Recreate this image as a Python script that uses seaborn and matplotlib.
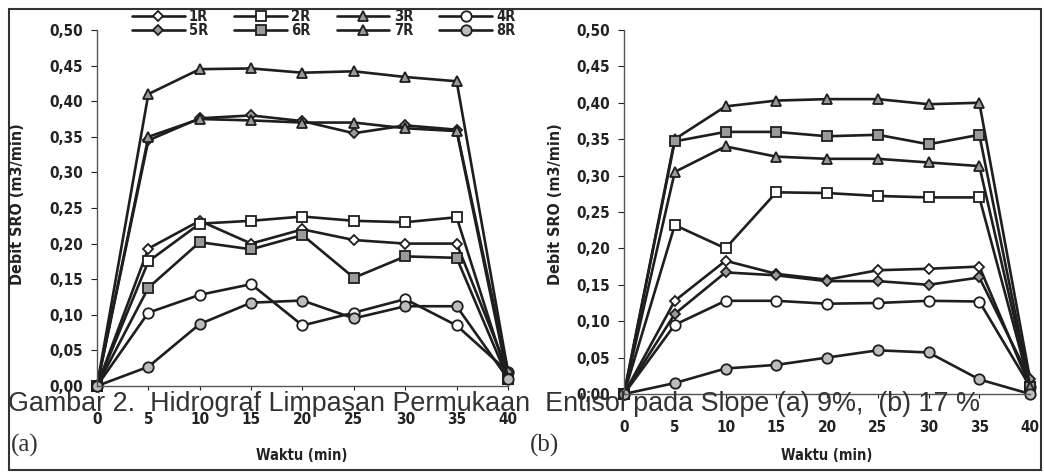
import numpy as np
import pandas as pd
import matplotlib
matplotlib.use('Agg')
import matplotlib.pyplot as plt
import seaborn as sns
from matplotlib.ticker import FuncFormatter, MultipleLocator
from matplotlib.patches import Rectangle

# Time axis (min)
waktu = [0, 5, 10, 15, 20, 25, 30, 35, 40]
series = ['1R', '2R', '3R', '4R', '5R', '6R', '7R', '8R']

# Panel (a) slope 9 %
a_1R = [0, 0.193, 0.232, 0.200, 0.220, 0.205, 0.200, 0.200, 0.020]
a_2R = [0, 0.175, 0.228, 0.232, 0.238, 0.232, 0.230, 0.237, 0.010]
a_3R = [0, 0.410, 0.445, 0.446, 0.440, 0.442, 0.434, 0.428, 0.020]
a_4R = [0, 0.103, 0.128, 0.143, 0.085, 0.103, 0.122, 0.085, 0.020]
a_5R = [0, 0.345, 0.376, 0.380, 0.372, 0.355, 0.366, 0.360, 0.020]
a_6R = [0, 0.138, 0.202, 0.192, 0.212, 0.152, 0.182, 0.180, 0.010]
a_7R = [0, 0.350, 0.375, 0.373, 0.370, 0.370, 0.362, 0.358, 0.010]
a_8R = [0, 0.027, 0.087, 0.117, 0.120, 0.095, 0.112, 0.112, 0.010]

# Panel (b) slope 17 %
b_1R = [0, 0.128, 0.183, 0.165, 0.157, 0.170, 0.172, 0.175, 0.010]
b_2R = [0, 0.232, 0.200, 0.277, 0.276, 0.272, 0.270, 0.270, 0.010]
b_3R = [0, 0.350, 0.395, 0.403, 0.405, 0.405, 0.398, 0.400, 0.020]
b_4R = [0, 0.095, 0.128, 0.128, 0.124, 0.125, 0.128, 0.127, 0.010]
b_5R = [0, 0.110, 0.167, 0.163, 0.155, 0.155, 0.150, 0.160, 0.020]
b_6R = [0, 0.347, 0.360, 0.360, 0.354, 0.356, 0.343, 0.356, 0.010]
b_7R = [0, 0.305, 0.340, 0.326, 0.323, 0.323, 0.318, 0.313, 0.010]
b_8R = [0, 0.015, 0.035, 0.040, 0.050, 0.060, 0.057, 0.020, 0.000]

panel_a = [a_1R, a_2R, a_3R, a_4R, a_5R, a_6R, a_7R, a_8R]
panel_b = [b_1R, b_2R, b_3R, b_4R, b_5R, b_6R, b_7R, b_8R]

# marker style per series
markers = {'1R': 'D', '2R': 's', '3R': '^', '4R': 'o',
           '5R': 'D', '6R': 's', '7R': '^', '8R': 'o'}
faces = {'1R': 'white', '2R': 'white', '3R': '#9a9a9a', '4R': 'white',
         '5R': '#9a9a9a', '6R': '#9a9a9a', '7R': '#9a9a9a', '8R': '#bdbdbd'}
msize = {'D': 5.5, 's': 7, '^': 7, 'o': 7.5}

sns.set_style('white')
plt.rcParams['font.family'] = ['DejaVu Sans']
plt.rcParams['font.stretch'] = 'condensed'

fig = plt.figure(figsize=(10.44, 4.74), dpi=100)
ax_a = fig.add_axes([0.0929, 0.1857, 0.3937, 0.751])
ax_b = fig.add_axes([0.5977, 0.1688, 0.3890, 0.768])

ink = '#1e1e1e'


def draw_panel(ax, data):
    for name, vals in zip(series, data):
        df = pd.DataFrame({'Waktu': waktu, 'Debit': vals})
        m = markers[name]
        sns.lineplot(data=df, x='Waktu', y='Debit', ax=ax, color=ink,
                     linewidth=1.9, marker=m, markersize=msize[m],
                     markerfacecolor=faces[name], markeredgecolor=ink,
                     markeredgewidth=1.3, label=name)
    ax.set_xlim(0, 40)
    ax.set_ylim(0, 0.5)
    ax.set_xticks(waktu)
    ax.yaxis.set_major_locator(MultipleLocator(0.05))
    ax.yaxis.set_major_formatter(FuncFormatter(lambda v, p: f'{v:.2f}'.replace('.', ',')))
    for s in ['top', 'right']:
        ax.spines[s].set_visible(False)
    for s in ['left', 'bottom']:
        ax.spines[s].set_color('#555555')
        ax.spines[s].set_linewidth(1.0)
    ax.tick_params(axis='y', labelsize=11, colors='#222222', length=4,
                   direction='out', left=True, pad=6)
    ax.tick_params(axis='x', labelsize=11, colors='#222222', length=3,
                   direction='out', bottom=True, pad=16)
    for lab in ax.get_xticklabels() + ax.get_yticklabels():
        lab.set_fontweight('bold')
    ax.set_xlabel('')
    ax.set_ylabel('')
    for ln in ax.lines:
        ln.set_clip_on(False)


draw_panel(ax_a, panel_a)
draw_panel(ax_b, panel_b)
ax_b.get_legend().remove()

# legend filled row-wise: 1R..4R on top, 5R..8R below
h, l = ax_a.get_legend_handles_labels()
order = [0, 4, 1, 5, 2, 6, 3, 7]
ax_a.legend([h[i] for i in order], [l[i] for i in order],
            loc='center', bbox_to_anchor=(0.552, 1.018), ncol=4, frameon=False,
            prop={'weight': 'bold', 'size': 10.5},
            handlelength=3.6, columnspacing=1.8, handletextpad=0.3,
            labelspacing=-0.02, borderpad=0)

# axis titles
for xc in [0.289, 0.792]:
    fig.text(xc, 0.04, 'Waktu (min)', ha='center', va='center',
             fontsize=10.5, fontweight='bold', color='#222222')
for xc in [0.017, 0.532]:
    fig.text(xc, 0.57, 'Debit SRO (m3/min)', ha='center', va='center',
             rotation=90, fontsize=11.5, fontweight='bold', color='#222222')

# caption laid over the figure as in the scan
fig.text(0.008, 0.133, 'Gambar 2.  Hidrograf Limpasan Permukaan  Entisol pada Slope (a) 9%,  (b) 17 %',
         fontsize=19.4, family=['Liberation Sans', 'DejaVu Sans'], stretch='normal',
         color='#333333', va='baseline')
fig.text(0.010, 0.048, '(a)', fontsize=18, family=['Liberation Serif', 'DejaVu Serif'],
         stretch='normal', color='#333333', va='baseline')
fig.text(0.508, 0.048, '(b)', fontsize=18, family=['Liberation Serif', 'DejaVu Serif'],
         stretch='normal', color='#333333', va='baseline')

# outer frame
fig.patches.append(Rectangle((0.009, 0.008), 0.988, 0.972, transform=fig.transFigure,
                             fill=False, edgecolor='#333333', linewidth=1.5))

fig.savefig('out.png', dpi=100, facecolor='white')
